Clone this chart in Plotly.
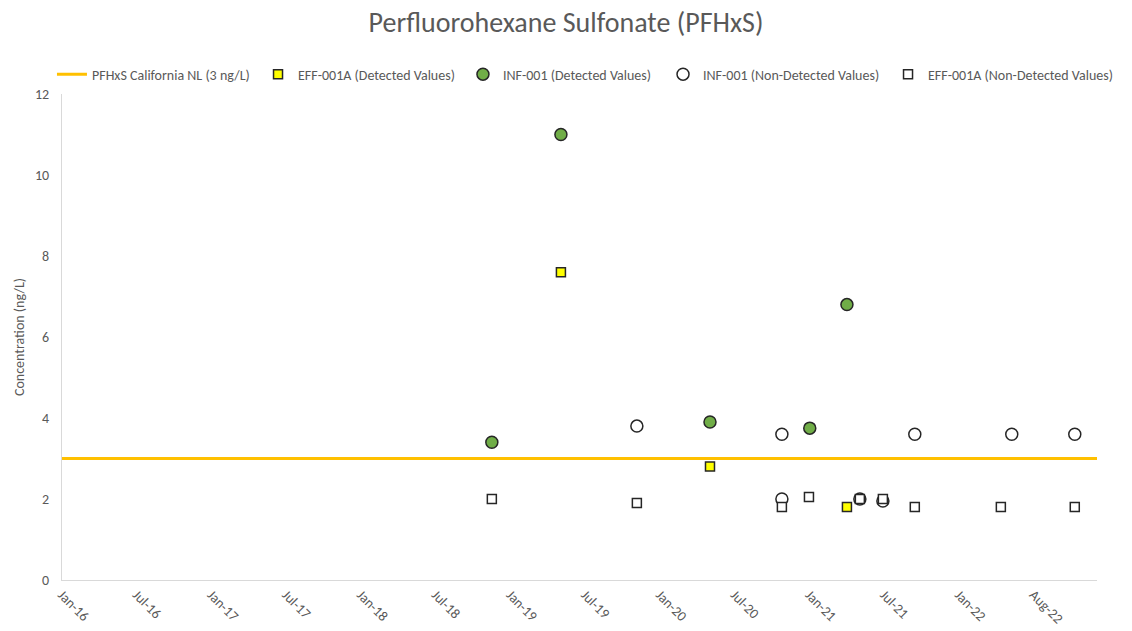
import pandas as pd
import plotly.graph_objects as go

# ---- data ----
nl_value = 3
nl_label = "PFHxS California NL (3 ng/L)"

eff_det_dates = ["2019-05-20", "2020-05-23", "2021-04-27"]
eff_det_vals = [7.6, 2.8, 1.8]

inf_det_dates = ["2018-11-30", "2019-05-20", "2020-05-23", "2021-01-25", "2021-04-27"]
inf_det_vals = [3.4, 11.0, 3.9, 3.75, 6.8]

inf_nd_dates = ["2019-11-24", "2020-11-17", "2020-11-17", "2021-05-29", "2021-07-25",
                "2021-10-12", "2022-06-09", "2022-11-12"]
inf_nd_vals = [3.8, 3.6, 2.0, 2.0, 1.95, 3.6, 3.6, 3.6]

eff_nd_dates = ["2018-11-30", "2019-11-24", "2020-11-17", "2021-01-23", "2021-05-29",
                "2021-07-25", "2021-10-12", "2022-05-13", "2022-11-12"]
eff_nd_vals = [2.0, 1.9, 1.8, 2.05, 2.0, 2.0, 1.8, 1.8, 1.8]

x_start = "2016-01-01"
x_end = "2023-01-06"
tick_labels = ["Jan-16", "Jul-16", "Jan-17", "Jul-17", "Jan-18", "Jul-18", "Jan-19",
               "Jul-19", "Jan-20", "Jul-20", "Jan-21", "Jul-21", "Jan-22", "Aug-22"]

tick_vals = pd.date_range(x_start, periods=len(tick_labels), freq="185D")

FONT = "Carlito, Calibri, Lato, sans-serif"
GREY = "#595959"

fig = go.Figure()
fig.add_trace(go.Scatter(
    x=[x_start, x_end], y=[nl_value, nl_value], mode="lines", name=nl_label,
    line=dict(color="#FFC000", width=3), hoverinfo="skip", legend="legend"))
fig.add_trace(go.Scatter(
    x=eff_det_dates, y=eff_det_vals, mode="markers", name="EFF-001A (Detected Values)",
    marker=dict(symbol="square", size=9, color="#FFFF00",
                line=dict(color="#262626", width=1.5)), legend="legend2"))
fig.add_trace(go.Scatter(
    x=inf_det_dates, y=inf_det_vals, mode="markers", name="INF-001 (Detected Values)",
    marker=dict(symbol="circle", size=12, color="#70AD47",
                line=dict(color="#262626", width=1.5)), legend="legend3"))
fig.add_trace(go.Scatter(
    x=inf_nd_dates, y=inf_nd_vals, mode="markers", name="INF-001 (Non-Detected Values)",
    marker=dict(symbol="circle", size=12, color="white",
                line=dict(color="#262626", width=1.5)), legend="legend4"))
fig.add_trace(go.Scatter(
    x=eff_nd_dates, y=eff_nd_vals, mode="markers", name="EFF-001A (Non-Detected Values)",
    marker=dict(symbol="square", size=9, color="white",
                line=dict(color="#262626", width=1.5)), legend="legend5"))


def leg(xpos):
    return dict(orientation="h", x=xpos, xanchor="left", y=1.04, yanchor="middle",
                font=dict(size=14, color=GREY, family=FONT), itemwidth=30,
                bgcolor="rgba(0,0,0,0)")


fig.update_layout(
    width=1132, height=631,
    paper_bgcolor="white", plot_bgcolor="white",
    margin=dict(l=62, r=35, t=94, b=51, autoexpand=False),
    font=dict(family=FONT, color=GREY, size=14),
    title=dict(text="Perfluorohexane Sulfonate (PFHxS)", x=0.5, xanchor="center",
               y=0.965, yanchor="middle", font=dict(size=28, color=GREY, family=FONT)),
    legend=leg(-0.0097),
    legend2=leg(0.1894),
    legend3=leg(0.3874),
    legend4=leg(0.5807),
    legend5=leg(0.7981),
    showlegend=True,
)
fig.update_xaxes(
    type="date", range=[x_start, x_end], tickvals=tick_vals, ticktext=tick_labels,
    tickangle=45, showgrid=False, showline=True, linecolor="#d9d9d9", linewidth=1,
    ticks="", tickfont=dict(size=14, color=GREY, family=FONT), zeroline=False,
    automargin=False)
fig.update_yaxes(
    range=[0, 12], tickvals=[0, 2, 4, 6, 8, 10, 12], showgrid=False, showline=True,
    linecolor="#d9d9d9", linewidth=1, ticks="outside", ticklen=9, tickcolor="rgba(0,0,0,0)",
    zeroline=False, automargin=False,
    tickfont=dict(size=14, color=GREY, family=FONT),
    title=dict(text="Concentration (ng/L)", font=dict(size=14, color=GREY, family=FONT),
               standoff=7))

fig.write_html("out.html", config={"displayModeBar": False},
               post_script="document.body.style.margin='0px';")
